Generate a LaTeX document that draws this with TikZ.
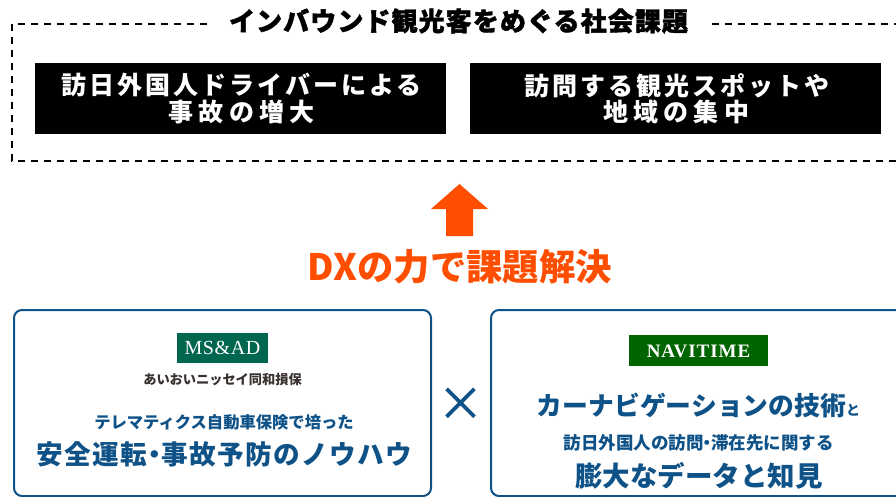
\documentclass[tikz,border=0pt]{standalone}
\usepackage{fontspec}
\setmainfont{Noto Sans CJK JP}
\newfontfamily\serifl{Liberation Serif}
\newcommand{\jp}[2][0]{\addfontfeature{LetterSpace=#1}#2}
\definecolor{navy}{HTML}{0E5288}
\definecolor{hot}{HTML}{FF4E00}
\definecolor{msgreen}{HTML}{00664F}
\definecolor{navgreen}{HTML}{006400}
\definecolor{ink}{HTML}{3A3230}
\tikzset{
  x=1pt,y=-1pt,
  partner/.style={draw=navy,line width=2pt,rounded corners=8pt,fill=white},
  txt/.style={inner sep=0pt,anchor=center},
  dashline/.style={draw=black,line width=1.3pt,dash pattern=on 7pt off 6pt},
  lab/.style={txt,text=navy,font=\bfseries},
  wtxt/.style={txt,text=white,font=\fontsize{25}{25}\selectfont\bfseries},
}
\begin{document}
\begin{tikzpicture}
\useasboundingbox (0,0) rectangle (896,497);
% dashed frame
\coordinate (fa) at (207,24);\coordinate (fb) at (12,24);\coordinate (fc) at (12,161);\coordinate (fd) at (896,161);
\coordinate (fe) at (712,24);\coordinate (ff) at (896,24);
\draw[dashline] (fa) -- (fb) -- (fc) -- (fd);
\draw[dashline] (fe) -- (ff);
\node[txt,font=\fontsize{26}{26}\selectfont\bfseries] (title) at (458.5,21) {\addfontfeature{FakeBold=1.5}\jp[4.2]{インバウンド観光客をめぐる社会課題}};
% black boxes
\fill[black] (35,63) rectangle (446,134);
\fill[black] (470,63) rectangle (881,134);
\node[wtxt] (a1) at (241.5,85.5) {\jp[12]{訪日外国人ドライバーによる}};
\node[wtxt] (a2) at (241.5,112) {\jp[21]{事故の増大}};
\node[wtxt] (b1) at (676.5,85.5) {\jp[12]{訪問する観光スポットや}};
\node[wtxt] (b2) at (676,112) {\jp[21]{地域の集中}};
% arrow
\fill[hot] (459.5,184) -- (488,209) -- (473,209) -- (473,236) -- (446,236) -- (446,209) -- (431,209) -- cycle;
\node[txt,text=hot,font=\fontsize{36.4}{36.4}\selectfont\bfseries] (dx) at (460,267) {DXの力で課題解決};
% partner boxes
\draw[partner] (14,310) rectangle (431,496);
\draw[partner] (491,310) rectangle (920,496);
\fill[msgreen] (177,333) rectangle (268,363);
\node[txt,text=white,font=\serifl\fontsize{20}{20}\selectfont] (ms) at (222.5,348) {\addfontfeature{LetterSpace=3}MS\&AD};
\node[txt,text=ink,font=\fontsize{13.2}{13.2}\selectfont\bfseries] (ai) at (222.5,380) {あいおいニッセイ同和損保};
\node[lab,font=\fontsize{16.3}{16.3}\selectfont\bfseries] (t1) at (224,422) {テレマティクス自動車保険で培った};
\node[lab,font=\fontsize{26.6}{26.6}\selectfont\bfseries] (t2) at (224.5,454) {\jp[5]{安全運転}\hspace{-6pt}・\hspace{-6pt}\jp[5]{事故予防のノウハウ}};
\node[txt,text=navy,font=\fontsize{46}{46}\selectfont] (x) at (460.5,404) {\addfontfeature{FakeBold=1.2}×};
\fill[navgreen] (629,335) rectangle (768,366);
\node[txt,text=white,font=\serifl\fontsize{19}{19}\selectfont\bfseries] (nv) at (698.5,351) {\addfontfeature{LetterSpace=5}NAVITIME};
\node[lab,font=\fontsize{25.8}{25.8}\selectfont\bfseries] (t3) at (698.5,405) {カーナビゲーションの技術{\fontsize{14}{14}\selectfont と}};
\node[lab,font=\fontsize{17.5}{17.5}\selectfont\bfseries] (t4) at (698.5,443) {訪日外国人の訪問\hspace{-5pt}・\hspace{-5pt}滞在先に関する};
\node[lab,font=\fontsize{27.5}{27.5}\selectfont\bfseries] (t5) at (699,476) {膨大なデータと知見};
\end{tikzpicture}
\end{document}
